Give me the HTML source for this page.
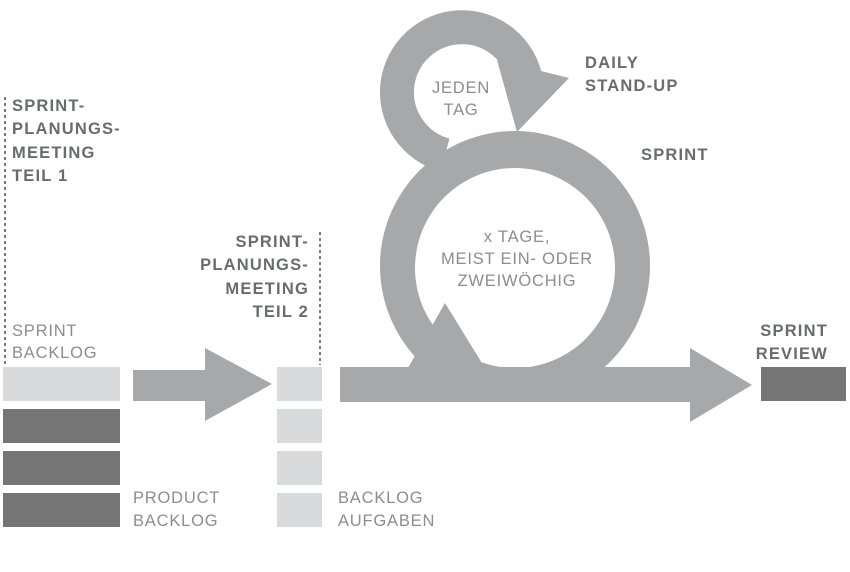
<!DOCTYPE html>
<html><head><meta charset="utf-8"><style>
body{margin:0;background:#fff;width:850px;height:567px;overflow:hidden}
svg text{font-family:"Liberation Sans",sans-serif;font-size:16.5px}
.b{font-weight:bold;fill:#6a6b6d;letter-spacing:1.2px}
.l{fill:#8c8d8f;letter-spacing:0.8px}
</style></head><body>
<svg width="850" height="567" viewBox="0 0 850 567">
<defs><clipPath id="c"><rect x="0" y="0" width="850" height="400"/></clipPath></defs>
<line x1="5" y1="97" x2="5" y2="365" stroke="#77787a" stroke-width="2" stroke-dasharray="3,3"/>
<line x1="320" y1="232" x2="320" y2="365" stroke="#77787a" stroke-width="2" stroke-dasharray="3,3"/>
<rect x="3" y="367" width="117" height="34" fill="#d9dadb"/>
<rect x="3" y="409" width="117" height="34" fill="#767676"/>
<rect x="3" y="451" width="117" height="34" fill="#767676"/>
<rect x="3" y="493" width="117" height="34" fill="#767676"/>
<rect x="277" y="367" width="45" height="34" fill="#d9dadb"/>
<rect x="277" y="409" width="45" height="34" fill="#d9dadb"/>
<rect x="277" y="451" width="45" height="34" fill="#d9dadb"/>
<rect x="277" y="493" width="45" height="34" fill="#d9dadb"/>
<polygon points="133,370 205,370 205,348 272,384 205,421 205,401 133,401" fill="#a7a8aa"/>
<path d="M445,155 A65,65 0 1 1 526,81" fill="none" stroke="#a7a8aa" stroke-width="34"/>
<polygon points="497,60 569,78 517,132" fill="#a7a8aa"/>
<g clip-path="url(#c)">
<circle cx="515" cy="266" r="135" fill="#a7a8aa"/>
<circle cx="515" cy="268" r="100" fill="#fff"/>
</g>
<polygon points="340,367 690,367 690,348 752,385 690,422 690,402 340,402" fill="#a7a8aa"/>
<polygon points="445,303 408,368 485,368" fill="#a7a8aa"/>
<rect x="761" y="367" width="85" height="34" fill="#767676"/>
<text class="b" x="12" y="111">SPRINT-</text>
<text class="b" x="12" y="134">PLANUNGS-</text>
<text class="b" x="12" y="158">MEETING</text>
<text class="b" x="12" y="181">TEIL 1</text>
<g text-anchor="end">
<text class="b" x="309" y="247">SPRINT-</text>
<text class="b" x="309" y="270">PLANUNGS-</text>
<text class="b" x="309" y="294">MEETING</text>
<text class="b" x="309" y="317">TEIL 2</text>
<text class="b" x="828" y="336">SPRINT</text>
<text class="b" x="828" y="359">REVIEW</text>
</g>
<text class="b" x="585" y="68">DAILY</text>
<text class="b" x="585" y="91">STAND-UP</text>
<text class="b" x="641" y="160">SPRINT</text>
<text class="l" x="12" y="336">SPRINT</text>
<text class="l" x="12" y="358">BACKLOG</text>
<text class="l" x="133" y="503">PRODUCT</text>
<text class="l" x="133" y="526">BACKLOG</text>
<text class="l" x="338" y="503">BACKLOG</text>
<text class="l" x="338" y="526">AUFGABEN</text>
<g text-anchor="middle">
<text class="l" x="461" y="93">JEDEN</text>
<text class="l" x="461" y="115">TAG</text>
<text class="l" x="517" y="242">x TAGE,</text>
<text class="l" x="517" y="264">MEIST EIN- ODER</text>
<text class="l" x="517" y="286">ZWEIWÖCHIG</text>
</g>
</svg>
</body></html>
